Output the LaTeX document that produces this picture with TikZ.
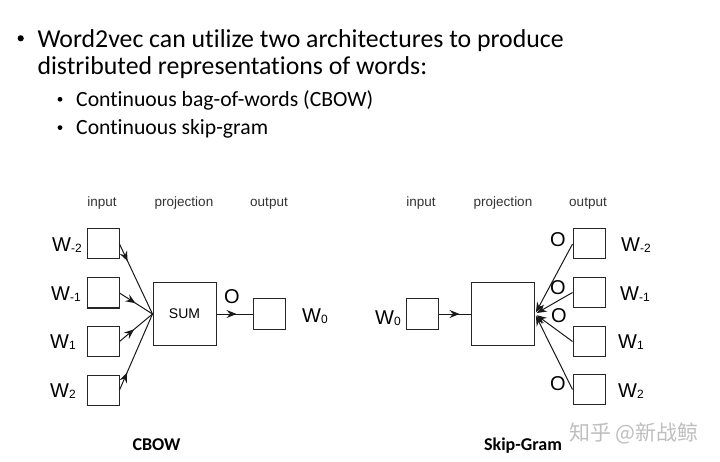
\documentclass[tikz,border=0pt]{standalone}
\usepackage{fontspec}
\setmainfont{Carlito}[Ligatures=NoCommon]
\newfontfamily\hel{Liberation Sans}
\newfontfamily\cjk{Noto Sans CJK SC}
\usetikzlibrary{arrows.meta,decorations.markings}
\tikzset{
  box/.style={draw=black!85,line width=1pt,minimum width=32pt,minimum height=30pt,inner sep=0pt},
  bigbox/.style={draw=black!85,line width=1pt,minimum width=63pt,minimum height=62pt,inner sep=0pt,font=\hel\fontsize{14}{14}\selectfont},
  collabel/.style={anchor=base,font=\hel\fontsize{13.5}{13.5}\selectfont,text=black!80},
  wlabel/.style={font=\hel\fontsize{20}{20}\selectfont,text=black,inner sep=0pt},
  olabel/.style={font=\hel\fontsize{20}{20}\selectfont,text=black,inner sep=0pt},
  conn/.style={draw=black!90,line width=1pt},
  midarrow/.style={conn,decoration={markings,mark=at position #1 with {\arrow{Stealth[length=10pt,width=8pt,inset=3.5pt]}}},postaction={decorate}},
  endarrow/.style={conn,-{Stealth[length=10pt,width=8pt,inset=3.5pt]}},
  caption/.style={anchor=base,font=\bfseries\fontsize{18}{18}\selectfont},
  bl/.style={anchor=base west,inner sep=0pt},
}
\newcommand{\wsub}[1]{W\raisebox{-1.5pt}{\fontsize{12}{12}\selectfont #1}}
\begin{document}
\begin{tikzpicture}[x=1pt,y=-1pt]
\useasboundingbox (0,0) rectangle (720,462);
\fill[white] (0,0) rectangle (720,462);

% header text
\node[bl,font=\fontsize{25.8}{25.8}\selectfont] (l1) at (37.3,47.3) {Word2vec can utilize two architectures to produce};
\node[bl,font=\fontsize{25.8}{25.8}\selectfont] (l2) at (37.3,75) {distributed representations of words:};
\node[bl,font=\fontsize{21.7}{21.7}\selectfont] (s1) at (76,106.7) {Continuous bag-of-words (CBOW)};
\node[bl,font=\fontsize{21.7}{21.7}\selectfont] (s2) at (76,135) {Continuous skip-gram};
\fill (20.7,38.3) circle (3.1pt);
\fill (60,99.3) circle (2.4pt);
\fill (60,127.6) circle (2.4pt);

% ---------------- CBOW ----------------
\node[collabel] (cin) at (102,207) {input};
\node[collabel] (cproj) at (184,207) {projection};
\node[collabel] (cout) at (269,207) {output};

\node[box] (i1) at (103,244) {};
\node[box] (i2) at (103,293) {};
\node[box] (i3) at (103,341.5) {};
\node[box] (i4) at (103,390) {};
\node[bigbox] (sum) at (184.5,314) {SUM};
\node[box] (o0) at (269.5,314) {};

\node[wlabel] (w1) at (67,245) {\wsub{-2}};
\node[wlabel] (w2) at (66,294) {\wsub{-1}};
\node[wlabel] (w3) at (63,342) {\wsub{1}};
\node[wlabel] (w4) at (63,391) {\wsub{2}};
\node[wlabel] (wo) at (315,316) {\wsub{0}};
\node[olabel] (co) at (232,297) {O};

\coordinate (sumin) at (sum.west);
\foreach \n in {i1,i2,i3,i4}{
  \draw[midarrow=19pt] (\n.east) -- (sumin);
}
\draw[midarrow=20pt] (sum.east) -- (o0.west);

% ---------------- Skip-gram ----------------
\node[collabel] (sin) at (421,207) {input};
\node[collabel] (sproj) at (503,207) {projection};
\node[collabel] (sout) at (588,207) {output};

\node[box] (si) at (422,314) {};
\node[bigbox] (proj) at (503,314) {};
\node[box] (q1) at (589,244) {};
\node[box] (q2) at (589,292.5) {};
\node[box] (q3) at (589,341.5) {};
\node[box] (q4) at (589,389.5) {};

\node[wlabel] (sw0) at (388,318) {\wsub{0}};
\node[wlabel] (sw1) at (636,245) {\wsub{-2}};
\node[wlabel] (sw2) at (635,294) {\wsub{-1}};
\node[wlabel] (sw3) at (631,342) {\wsub{1}};
\node[wlabel] (sw4) at (631,391) {\wsub{2}};

\node[olabel] (so1) at (558,240) {O};
\node[olabel] (so2) at (558,288) {O};
\node[olabel] (so3) at (559,316) {O};
\node[olabel] (so4) at (558,384) {O};

\draw[midarrow=21pt] (si.east) -- (proj.west);
\coordinate (projout) at (proj.east);
\foreach \n in {q1,q2,q3,q4}{
  \draw[endarrow,shorten >=2pt] (\n.west) -- (projout);
}

% captions
\node[caption] (cap1) at (156.5,450) {CBOW};
\node[caption] (cap2) at (523,450) {Skip-Gram};

% watermark
\node[font=\cjk\fontsize{21}{21}\selectfont,text=black!25] (wm) at (634,433) {知乎 @新战鲸};
\end{tikzpicture}
\end{document}
